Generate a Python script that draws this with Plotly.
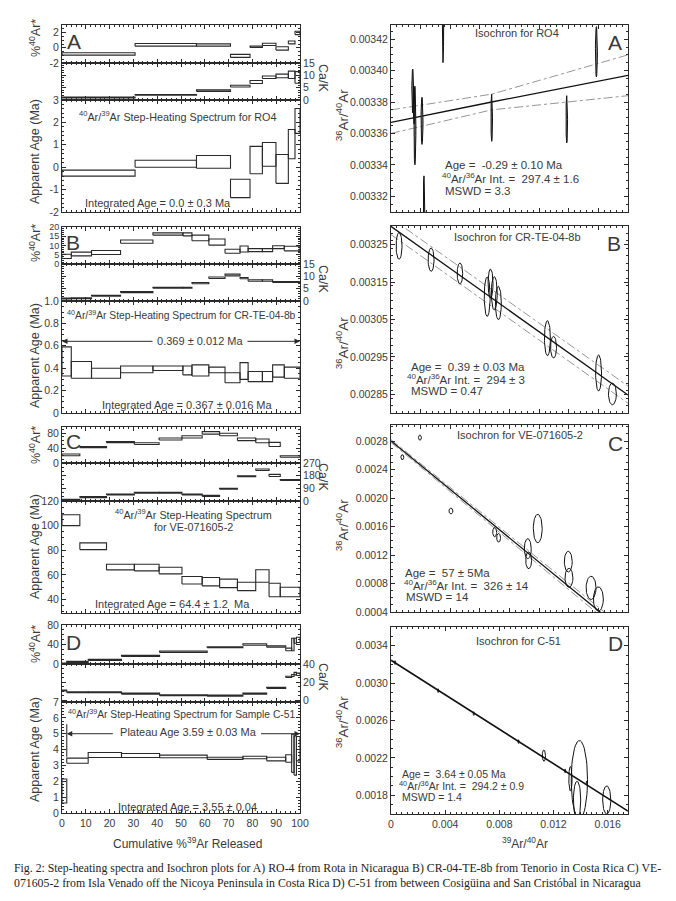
import numpy as np
import plotly.graph_objects as go

W, H = 676, 901

# ======================= DATA =======================
# ---- Sample A: RO4 ----
a_steps = [0, 30.7, 56.5, 70.8, 79.0, 84.2, 89.9, 95.1, 97.9, 100]
a_ar_hi = [-0.65, 0.57, 0.52, -0.87, 0.22, 0.60, 0.13, 0.90, 2.17]
a_ar_lo = [-0.96, 0.22, 0.22, -1.26, 0.04, 0.30, -0.30, 0.52, 1.74]
a_ca_hi = [1.2, 2.2, 4.1, 6.0, 7.9, 9.7, 10.5, 11.7, 11.5]
a_ca_lo = [0.8, 1.9, 3.5, 5.3, 6.7, 8.7, 9.0, 8.7, 6.8]
a_age_hi = [-0.13, 0.31, 0.52, -0.54, 0.93, 1.10, 0.57, 1.68, 2.62]
a_age_lo = [-0.40, 0.00, -0.05, -1.36, -0.29, 0.04, -0.72, 0.38, 1.51]

# ---- Sample B: CR-TE-04-8b ----
b_steps = [0, 3.9, 12.4, 24.6, 38.2, 50.8, 54.6, 61.7, 68.5, 74.8, 78.2, 84.2, 88.5, 93.4, 100]
b_ar_hi = [5.3, 6.4, 7.3, 13.0, 16.8, 16.8, 15.6, 13.5, 8.0, 9.7, 8.3, 8.3, 9.9, 9.6]
b_ar_lo = [3.0, 4.4, 5.1, 11.2, 15.6, 15.2, 12.6, 10.2, 5.8, 6.5, 6.7, 6.7, 8.3, 7.1]
b_ca_hi = [1.2, 1.3, 2.3, 3.8, 5.6, 5.6, 7.5, 9.7, 10.9, 9.5, 8.6, 8.6, 7.9, 7.9]
b_ca_lo = [0.8, 0.9, 1.9, 3.4, 5.2, 5.2, 7.0, 9.1, 10.2, 9.0, 8.0, 8.0, 7.5, 7.5]
b_age_hi = [0.59, 0.46, 0.40, 0.42, 0.42, 0.42, 0.43, 0.41, 0.36, 0.45, 0.37, 0.37, 0.43, 0.41]
b_age_lo = [0.33, 0.31, 0.31, 0.36, 0.38, 0.34, 0.33, 0.36, 0.27, 0.30, 0.28, 0.28, 0.32, 0.31]

# ---- Sample C: VE-071605-2 ----
c_steps = [0, 7.5, 18.7, 30.4, 40.8, 50.4, 58.9, 66.2, 73.7, 81.4, 87.0, 91.7, 100]
c_ar_hi = [24, 44, 57, 54, 66.7, 72.6, 83.6, 79.5, 66.7, 64, 55, 19.5]
c_ar_lo = [19.5, 41, 54, 49.5, 61.5, 66.7, 77, 72.6, 59.7, 54, 44, 15.4]
c_ca_hi = [12, 31, 50, 62, 62, 50, 41, 91, 179, 227, 189, 153]
c_ca_lo = [5, 24, 43, 55, 55, 43, 33, 84, 172, 217, 174, 146]
c_age_hi = [108.8, 86.0, 68.6, 68.6, 66.2, 58.6, 57.8, 56.5, 54.0, 64.1, 53.2, 49.9]
c_age_lo = [100.0, 80.5, 64.0, 63.2, 60.8, 52.6, 51.0, 49.6, 47.2, 54.0, 42.2, 42.2]

# ---- Sample D: C-51 ----
d_steps = [0, 2, 11, 25, 41, 61, 76, 86, 94, 96.5, 97.5, 98.5, 100]
d_ar_hi = [2.0, 5.4, 9.5, 17.6, 26.4, 35.3, 41.4, 37.3, 32.5, 52.9, 52.9, 55.0]
d_ar_lo = [0.0, 3.4, 7.5, 15.6, 23.7, 33.2, 38.6, 34.6, 27.1, 27.1, 42.7, 44.0]
d_ca_hi = [11.2, 9.3, 9.3, 7.9, 6.0, 5.6, 7.9, 14.2, 26.5, 28.4, 30.7, 29.9]
d_ca_lo = [10.1, 8.2, 8.2, 6.7, 4.9, 4.5, 6.7, 13.1, 25.0, 26.2, 28.0, 27.3]
d_age_hi = [2.14, 3.46, 3.82, 3.75, 3.65, 3.52, 3.58, 3.52, 3.67, 4.97, 4.86, 4.82]
d_age_lo = [0.63, 3.14, 3.50, 3.50, 3.48, 3.38, 3.42, 3.29, 3.20, 2.56, 2.39, 3.29]

# plateau values (arrow level on age axis)
b_plateau_level = 0.64
d_plateau_level = 5.0
d_plateau_start = [2, 2]
d_plateau_bar = [3.55, 5.6]

# ---- Isochrons: ellipse centres (x = 39Ar/40Ar, y = 36Ar/40Ar) and half-errors ----
ia_x = [0.00022, 0.000242, 0.000233, 0.000314, 0.000526, 0.000334, 0.00102, 0.00178, 0.00208]
ia_y = [0.003387, 0.003365, 0.003378, 0.003368, 0.00344, 0.00331, 0.00337, 0.003369, 0.003412]
ia_ex = [0.000009, 0.00001, 0.000009, 0.00001, 0.000008, 0.000008, 0.000008, 0.000008, 0.00001]
ia_ey = [0.000014, 0.000025, 0.000012, 0.000015, 0.000035, 0.000023, 0.000015, 0.000015, 0.000016]
ia_line_x = [0, 0.00102, 0.0024]
ia_line_y = [0.003367, 0.00338, 0.003397]
ia_up_y = [0.003375, 0.003385, 0.00341]
ia_lo_y = [0.00336, 0.003375, 0.003384]

ib_x = [0.0000816, 0.000406, 0.000698, 0.000974, 0.001008, 0.001046, 0.001087, 0.001584, 0.001646, 0.002102, 0.002242]
ib_y = [0.003247, 0.00321, 0.003173, 0.003111, 0.003146, 0.00312, 0.003094, 0.0030, 0.002976, 0.002907, 0.002851]
ib_ex = [0.00003, 0.00003, 0.000028, 0.00003, 0.000025, 0.00003, 0.00003, 0.00003, 0.00003, 0.00003, 0.00004]
ib_ey = [0.0000357, 0.0000312, 0.000028, 0.0000527, 0.0000388, 0.0000446, 0.0000446, 0.0000469, 0.000029, 0.0000482, 0.000029]
ib_line_x = [0, 0.0024]
ib_line_y = [0.003299, 0.002848]
ib_up_y = [0.003321, 0.002872]
ib_lo_y = [0.003277, 0.002826]

ic_x = [0.000115, 0.000293, 0.000607, 0.00105, 0.00109, 0.001385, 0.001394, 0.001486, 0.001795, 0.001802, 0.002026, 0.0021]
ic_y = [0.002573, 0.002848, 0.001818, 0.001521, 0.001441, 0.001289, 0.001125, 0.001572, 0.001107, 0.000879, 0.000739, 0.000582]
ic_ex = [0.000015, 0.000015, 0.00002, 0.00002, 0.00002, 0.000035, 0.00003, 0.000045, 0.00004, 0.00004, 0.00005, 0.00005]
ic_ey = [0.000035, 0.000035, 0.00004, 0.000065, 0.00006, 0.00014, 0.000117, 0.0002, 0.000145, 0.000133, 0.000163, 0.00017]
ic_line_x = [0, 0.0024]
ic_line_y = [0.0028, 0.000079]
ic_up_y = [0.00282, 0.000131]
ic_lo_y = [0.00278, 0.000025]

id_x = [0.0003, 0.00348, 0.00611, 0.00942, 0.01129, 0.01286, 0.01325, 0.01391, 0.01374, 0.01445, 0.01593]
id_y = [0.00322, 0.002919, 0.002674, 0.002374, 0.002224, 0.002061, 0.001977, 0.001966, 0.00175, 0.001933, 0.00175]
id_ex = [0.00004, 0.00004, 0.00004, 0.00004, 0.00012, 0.00004, 0.00012, 0.0006, 0.00027, 0.00004, 0.0003]
id_ey = [0.00002, 0.00002, 0.00002, 0.00002, 0.00006, 0.00002, 0.00013, 0.00042, 0.0002, 0.00002, 0.00015]
id_line_x = [0, 0.0175]
id_line_y = [0.003244, 0.001631]

d_x_ticks = [0, 0.004, 0.008, 0.012, 0.016]
d_x_ticklabels = ["0", "0.004", "0.008", "0.012", "0.016"]

# ======================= HELPERS =======================
def xd(px):
    return px / W

def yd(py):
    return 1 - py / H

INK = "#2a2a2a"
GREY = "#8a8a8a"
TXT = "#3a3a3a"
FONT = "Liberation Sans, Arial, sans-serif"
NB = "\u00a0"

layout = dict(
    width=W, height=H, margin=dict(l=0, r=0, t=0, b=0),
    paper_bgcolor="white", plot_bgcolor="rgba(0,0,0,0)",
    showlegend=False, font=dict(family=FONT, color=TXT, size=10),
)
traces = []
annotations = []
counter = [0]


def base_axis(**kw):
    ax = dict(showline=True, linecolor=INK, linewidth=1, mirror="ticks",
              ticks="inside", ticklen=4, tickcolor=INK, tickwidth=1,
              showgrid=False, zeroline=False, fixedrange=True, automargin=False,
              tickfont=dict(size=10.5, color=TXT, family=FONT))
    ax.update(kw)
    return ax


def new_axes(xpx, ypx, xkw, ykw):
    counter[0] += 1
    n = counter[0]
    sfx = "" if n == 1 else str(n)
    xa = base_axis(domain=[xd(xpx[0]), xd(xpx[1])], anchor="y" + sfx, **xkw)
    ya = base_axis(domain=[yd(ypx[1]), yd(ypx[0])], anchor="x" + sfx, **ykw)
    layout["xaxis" + sfx] = xa
    layout["yaxis" + sfx] = ya
    return "x" + sfx, "y" + sfx


def boxes(steps, hi, lo, xr, yr, color=INK):
    xs, ys = [], []
    for i in range(len(hi)):
        x0, x1 = steps[i], steps[i + 1]
        xs += [x0, x0, x1, x1, x0, None]
        ys += [lo[i], hi[i], hi[i], lo[i], lo[i], None]
    traces.append(go.Scatter(x=xs, y=ys, mode="lines", xaxis=xr, yaxis=yr,
                             line=dict(color=color, width=1.1), hoverinfo="skip"))


T = np.linspace(0, 2 * np.pi, 49)


def ellipses(xc, yc, ex, ey, xr, yr, fill=False):
    xs, ys = [], []
    for a, b, c, d in zip(xc, yc, ex, ey):
        xs += list(a + c * np.cos(T)) + [None]
        ys += list(b + d * np.sin(T)) + [None]
    traces.append(go.Scatter(x=xs, y=ys, mode="lines", xaxis=xr, yaxis=yr,
                             fill="toself" if fill else None,
                             fillcolor="rgba(120,120,120,0.9)" if fill else None,
                             line=dict(color="#111", width=1), hoverinfo="skip"))


def line(x, y, xr, yr, color="#111", width=1.3, dash=None):
    traces.append(go.Scatter(x=x, y=y, mode="lines", xaxis=xr, yaxis=yr,
                             line=dict(color=color, width=width, dash=dash),
                             hoverinfo="skip"))


def text(px, py, s, size=11, anchor="center", angle=0, family=FONT, color=TXT, bg=None):
    a = dict(x=xd(px), y=yd(py), xref="paper", yref="paper",
             text=s, showarrow=False, xanchor=anchor, yanchor="middle",
             textangle=angle, font=dict(size=size, family=family, color=color))
    if bg:
        a["bgcolor"] = bg
    annotations.append(a)


LX = (62, 300)
RX = (391, 628)
XSTEP = dict(range=[0, 100], dtick=10, tick0=0, showticklabels=False,
             minor=dict(ticks="inside", ticklen=2, dtick=2, tickcolor=INK))
SMALL_TICKS = dict(size=9, color=TXT, family=FONT)

# ======================= LEFT COLUMN =======================
panels = [
    dict(steps=a_steps, ar=(a_ar_hi, a_ar_lo), ca=(a_ca_hi, a_ca_lo), age=(a_age_hi, a_age_lo),
         ypx=(25, 63, 100, 212),
         ar_ax=dict(range=[-2, 3], tickvals=[-2, 0, 2], ticktext=["-2", "0", "2"],
                    minor=dict(ticks="inside", ticklen=2, dtick=0.5, tickcolor=INK)),
         ca_ax=dict(range=[0, 15], tickvals=[0, 5, 10, 15],
                    minor=dict(ticks="inside", ticklen=2, dtick=1, tickcolor=INK)),
         age_ax=dict(range=[-2, 3], tickvals=[-2, -1, 0, 1, 2, 3],
                     ticktext=["-2", "-1", "0", "1", "2", "3"],
                     minor=dict(ticks="inside", ticklen=2, dtick=0.2, tickcolor=INK))),
    dict(steps=b_steps, ar=(b_ar_hi, b_ar_lo), ca=(b_ca_hi, b_ca_lo), age=(b_age_hi, b_age_lo),
         ypx=(227, 264, 301, 413),
         ar_ax=dict(range=[0, 20], tickvals=[0, 5, 10, 15, 20], tickfont=SMALL_TICKS,
                    minor=dict(ticks="inside", ticklen=2, dtick=1, tickcolor=INK)),
         ca_ax=dict(range=[0, 15], tickvals=[0, 5, 10, 15],
                    minor=dict(ticks="inside", ticklen=2, dtick=1, tickcolor=INK)),
         age_ax=dict(range=[0, 1.0], tickvals=[0, 0.2, 0.4, 0.6, 0.8, 1.0],
                     ticktext=["0", "0.2", "0.4", "0.6", "0.8", "1.0"],
                     minor=dict(ticks="inside", ticklen=2, dtick=0.05, tickcolor=INK))),
    dict(steps=c_steps, ar=(c_ar_hi, c_ar_lo), ca=(c_ca_hi, c_ca_lo), age=(c_age_hi, c_age_lo),
         ypx=(427, 463, 501, 613),
         ar_ax=dict(range=[0, 96], tickvals=[0, 40, 80],
                    minor=dict(ticks="inside", ticklen=2, dtick=10, tickcolor=INK)),
         ca_ax=dict(range=[0, 270], tickvals=[0, 90, 180, 270],
                    minor=dict(ticks="inside", ticklen=2, dtick=30, tickcolor=INK)),
         age_ax=dict(range=[29, 120], tickvals=[40, 60, 80, 100, 120],
                     minor=dict(ticks="inside", ticklen=2, dtick=5, tickcolor=INK))),
    dict(steps=d_steps, ar=(d_ar_hi, d_ar_lo), ca=(d_ca_hi, d_ca_lo), age=(d_age_hi, d_age_lo),
         ypx=(625, 664, 702, 813),
         ar_ax=dict(range=[0, 80], tickvals=[0, 40, 80],
                    minor=dict(ticks="inside", ticklen=2, dtick=10, tickcolor=INK)),
         ca_ax=dict(range=[-2, 40], tickvals=[0, 20, 40],
                    minor=dict(ticks="inside", ticklen=2, dtick=5, tickcolor=INK)),
         age_ax=dict(range=[0, 7], tickvals=[0, 1, 2, 3, 4, 5, 6, 7],
                     minor=dict(ticks="inside", ticklen=2, dtick=0.2, tickcolor=INK))),
]

age_axes = []
for i, p in enumerate(panels):
    t0, t1, t2, t3 = p["ypx"]
    xr, yr = new_axes(LX, (t0, t1), dict(XSTEP), p["ar_ax"])
    boxes(p["steps"], *p["ar"], xr, yr)
    xr, yr = new_axes(LX, (t1, t2), dict(XSTEP), dict(side="right", **p["ca_ax"]))
    boxes(p["steps"], *p["ca"], xr, yr)
    xkw = dict(XSTEP)
    if i == 3:
        xkw.update(showticklabels=True)
    xr, yr = new_axes(LX, (t2, t3), xkw, p["age_ax"])
    boxes(p["steps"], *p["age"], xr, yr)
    age_axes.append((xr, yr))

# ======================= RIGHT COLUMN (isochrons) =======================
XISO = dict(range=[0, 0.0024], dtick=0.0003, tick0=0, showticklabels=False,
            minor=dict(ticks="inside", ticklen=2, dtick=0.00006, tickcolor=INK))

# A
xr, yr = new_axes(RX, (25, 212), dict(XISO),
                  dict(range=[0.00331, 0.003429],
                       tickvals=[0.00332, 0.00334, 0.00336, 0.00338, 0.00340, 0.00342],
                       ticktext=["0.00332", "0.00334", "0.00336", "0.00338", "0.00340", "0.00342"],
                       minor=dict(ticks="inside", ticklen=2, dtick=0.000005, tickcolor=INK)))
line(ia_line_x, ia_up_y, xr, yr, color=GREY, width=0.9, dash="dashdot")
line(ia_line_x, ia_lo_y, xr, yr, color=GREY, width=0.9, dash="dashdot")
line(ia_line_x, ia_line_y, xr, yr)
ellipses(ia_x, ia_y, ia_ex, ia_ey, xr, yr, fill=True)

# B
xr, yr = new_axes(RX, (226, 413), dict(XISO),
                  dict(range=[0.0028, 0.0033],
                       tickvals=[0.00285, 0.00295, 0.00305, 0.00315, 0.00325],
                       ticktext=["0.00285", "0.00295", "0.00305", "0.00315", "0.00325"],
                       minor=dict(ticks="inside", ticklen=2, dtick=0.00002, tickcolor=INK)))
line(ib_line_x, ib_up_y, xr, yr, color=GREY, width=0.9, dash="dashdot")
line(ib_line_x, ib_lo_y, xr, yr, color=GREY, width=0.9, dash="dashdot")
line(ib_line_x, ib_line_y, xr, yr)
ellipses(ib_x, ib_y, ib_ex, ib_ey, xr, yr)

# C
xr, yr = new_axes(RX, (425, 612), dict(XISO),
                  dict(range=[0.0004, 0.003025],
                       tickvals=[0.0004, 0.0008, 0.0012, 0.0016, 0.0020, 0.0024, 0.0028],
                       ticktext=["0.0004", "0.0008", "0.0012", "0.0016", "0.0020", "0.0024", "0.0028"],
                       minor=dict(ticks="inside", ticklen=2, dtick=0.0001, tickcolor=INK)))
line(ic_line_x, ic_up_y, xr, yr, color=GREY, width=0.9, dash="dashdot")
line(ic_line_x, ic_lo_y, xr, yr, color=GREY, width=0.9, dash="dashdot")
line(ic_line_x, ic_line_y, xr, yr)
ellipses(ic_x, ic_y, ic_ex, ic_ey, xr, yr)

# D
xr, yr = new_axes(RX, (627, 814),
                  dict(range=[0, 0.0175], tickvals=d_x_ticks, ticktext=d_x_ticklabels,
                       minor=dict(ticks="inside", ticklen=2, dtick=0.0004, tickcolor=INK)),
                  dict(range=[0.0016, 0.0036],
                       tickvals=[0.0018, 0.0022, 0.0026, 0.0030, 0.0034],
                       ticktext=["0.0018", "0.0022", "0.0026", "0.0030", "0.0034"],
                       minor=dict(ticks="inside", ticklen=2, dtick=0.0001, tickcolor=INK)))
line(id_line_x, id_line_y, xr, yr, width=1.6)
ellipses(id_x, id_y, id_ex, id_ey, xr, yr)

# ======================= PLATEAU ARROWS =======================
bx, by = age_axes[1]
for x_tip, x_tail in [(0, 39), (100, 77)]:
    annotations.append(dict(x=x_tip, y=b_plateau_level, ax=x_tail, ay=b_plateau_level,
                            xref=bx, yref=by, axref=bx, ayref=by, text="",
                            showarrow=True, arrowhead=2, arrowsize=1.1, arrowwidth=1,
                            arrowcolor=INK))
dx, dy = age_axes[3]
line(d_plateau_start, d_plateau_bar, dx, dy, color=INK, width=1.1)
for x_tip, x_tail in [(d_plateau_start[0], 22), (100, 83)]:
    annotations.append(dict(x=x_tip, y=d_plateau_level, ax=x_tail, ay=d_plateau_level,
                            xref=dx, yref=dy, axref=dx, ayref=dy, text="",
                            showarrow=True, arrowhead=2, arrowsize=1.1, arrowwidth=1,
                            arrowcolor=INK))

# ======================= TEXT =======================
AR4039 = "<sup>40</sup>Ar/<sup>39</sup>Ar"
# panel letters
for (lx, ly), (rx, ry), L in zip([(74, 42), (73, 242), (73, 441), (73, 642)],
                                 [(615, 43), (614, 243), (615, 443), (615, 643)], "ABCD"):
    text(lx, ly, L, size=21)
    text(rx, ry, L, size=21)

# left axis titles
for y in (38, 243, 445, 644):
    text(35, y, "%<sup>40</sup>Ar*", size=12.5, angle=-90)
for y in (78, 279, 477, 677):
    text(323, y, "Ca/K", size=12.5, angle=90)
for y in (152, 356, 547, 750):
    text(35, y, "Apparent Age (Ma)", size=12.5, angle=-90)
# iso axis titles
for y in (115, 343, 525, 722):
    text(342, y, "<sup>36</sup>Ar/<sup>40</sup>Ar", size=13.5, angle=-90)

# step-heating panel texts
text(177, 116, AR4039 + " Step-Heating Spectrum for RO4", size=10.8)
text(158, 203, "Integrated Age = 0.0 ± 0.3" + NB + "Ma", size=11)
text(181, 314, AR4039 + " Step-Heating Spectrum for CR-TE-04-8b", size=10.3)
text(200, 341, NB + "0.369 ± 0.012 Ma" + NB, size=11, bg="white")
text(187, 405, "Integrated Age = 0.367 ± 0.016 Ma", size=11)
text(193, 514, AR4039 + " Step-Heating Spectrum", size=10.8)
text(193, 527, "for VE-071605-2", size=10.8)
text(173, 604, "Integrated Age = 64.4 ± 1.2" + NB + NB + "Ma", size=11)
text(181, 713, AR4039 + " Step-Heating Spectrum for Sample C-51", size=10.3)
text(188, 732, NB + "Plateau Age 3.59 ± 0.03 Ma" + NB, size=11, bg="white")
text(188, 807, "Integrated Age = 3.55 ± 0.04", size=11)
text(188, 843, "Cumulative %<sup>39</sup>Ar Released", size=12)

# isochron texts
text(517, 33, "Isochron for RO4", size=11)
text(517, 237, "Isochron for CR-TE-04-8b", size=11)
text(520, 435, "Isochron for VE-071605-2", size=11)
text(518, 641, "Isochron for C-51", size=11)
INT = "<sup>40</sup>Ar/<sup>36</sup>Ar Int. =" + NB + NB
stats = [
    ((443, 165), (440, 178), (443, 191), "Age =" + NB + NB + "-0.29 ± 0.10" + NB + "Ma", INT + "297.4 ± 1.6", "MSWD = 3.3"),
    ((409, 367), (405, 379), (409, 391), "Age =" + NB + NB + "0.39 ± 0.03" + NB + "Ma", INT + "294 ± 3", "MSWD = 0.47"),
    ((403, 573), (402, 585), (404, 597), "Age =" + NB + NB + "57 ± 5Ma", INT + "326 ± 14", "MSWD = 14"),
    ((400, 774), (397, 785), (400, 797), "Age =" + NB + NB + "3.64 ± 0.05 Ma", INT + "294.2 ± 0.9", "MSWD = 1.4"),
]
for k, (p1, p2, p3, s1, s2, s3) in enumerate(stats):
    sz = 10.5 if k == 3 else 11.5
    text(p1[0], p1[1], s1, size=sz, anchor="left")
    text(p2[0], p2[1], s2, size=sz, anchor="left")
    text(p3[0], p3[1], s3, size=sz, anchor="left")
text(525, 843, "<sup>39</sup>Ar/<sup>40</sup>Ar", size=12)

# caption
SERIF = "Liberation Serif, Times New Roman, serif"
text(12, 868, "Fig. 2: Step-heating spectra and Isochron plots for A) RO-4 from Rota in Nicaragua B) CR-04-TE-8b "
     "from Tenorio in Costa Rica C) VE-", size=11.8, anchor="left", family=SERIF, color="#222")
text(12, 883, "071605-2 from Isla Venado off the Nicoya Peninsula in Costa Rica D) C-51 from between "
     "Cosigüina and San Cristóbal in Nicaragua", size=11.8, anchor="left", family=SERIF, color="#222")

layout["annotations"] = annotations
fig = go.Figure(data=traces, layout=layout)
fig.write_html("out.html",
               config={"displayModeBar": False, "staticPlot": True},
               post_script="document.body.style.margin='0';document.body.style.padding='0';")
